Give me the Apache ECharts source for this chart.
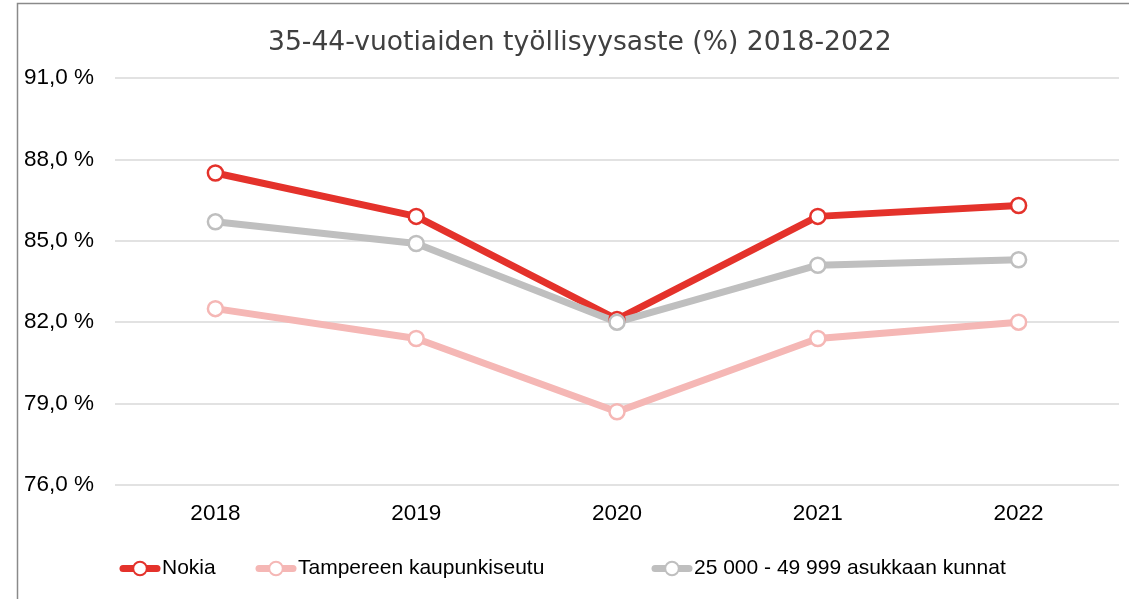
<!DOCTYPE html>
<html>
<head>
<meta charset="utf-8">
<script src="https://cdn.jsdelivr.net/npm/echarts@6/dist/echarts.min.js"></script>
<style>
html,body{margin:0;padding:0;background:#fff;}
#chart{width:1129px;height:599px;}
</style>
</head>
<body>
<div id="chart"></div>
<script>
const titleText = '35-44-vuotiaiden työllisyysaste (%) 2018-2022';
const categories = ['2018', '2019', '2020', '2021', '2022'];
const seriesNames = ['Nokia', 'Tampereen kaupunkiseutu', '25 000 - 49 999 asukkaan kunnat'];
const nokia = [87.5, 85.9, 82.1, 85.9, 86.3];
const tampere = [82.5, 81.4, 78.7, 81.4, 82.0];
const kunnat = [85.7, 84.9, 82.0, 84.1, 84.3];
const yMin = 76, yMax = 91, yStep = 3;
const colors = ['#E4322B', '#F5B7B5', '#BFBFBF'];
const legendLefts = [114.5, 250.5, 646.5];

const chart = echarts.init(document.getElementById('chart'));
function mkSeries(name, data, color) {
  return {
    name: name, type: 'line', data: data,
    symbol: 'circle', symbolSize: 15,
    lineStyle: { color: color, width: 7 },
    itemStyle: { color: '#fff', borderColor: color, borderWidth: 2.5 },
    emphasis: { disabled: true }
  };
}
function mkLegend(name, left) {
  return {
    left: left, top: 553, itemWidth: 34, itemHeight: 17,
    lineStyle: { width: 7, cap: 'round' },
    textStyle: { fontSize: 21, color: '#000', fontFamily: 'Liberation Sans' },
    data: [name]
  };
}
chart.setOption({
  animation: false,
  textStyle: { fontFamily: 'Liberation Sans' },
  graphic: [{
    type: 'rect', silent: true,
    shape: { x: 17.5, y: 3.5, width: 1200, height: 700 },
    style: { fill: 'none', stroke: '#8a8a8a', lineWidth: 1.5 }
  }],
  title: {
    text: titleText, left: 263, top: 25,
    textStyle: { fontFamily: 'DejaVu Sans', fontWeight: 'normal', fontSize: 26.6, color: '#404040' }
  },
  legend: seriesNames.map((n, i) => mkLegend(n, legendLefts[i])),
  grid: { left: 115, right: 10, top: 78, bottom: 114 },
  xAxis: {
    type: 'category', data: categories, boundaryGap: true,
    axisLine: { show: false }, axisTick: { show: false },
    axisLabel: { fontSize: 22.5, color: '#000', margin: 17 }
  },
  yAxis: {
    type: 'value', min: yMin, max: yMax, interval: yStep,
    axisLine: { show: false }, axisTick: { show: false },
    splitLine: { lineStyle: { color: '#d9d9d9', width: 1.5 } },
    axisLabel: {
      fontSize: 22.5, color: '#000', margin: 21,
      formatter: v => v.toFixed(1).replace('.', ',') + ' %'
    }
  },
  series: [
    mkSeries(seriesNames[0], nokia, colors[0]),
    mkSeries(seriesNames[1], tampere, colors[1]),
    mkSeries(seriesNames[2], kunnat, colors[2])
  ]
});
</script>
</body>
</html>
